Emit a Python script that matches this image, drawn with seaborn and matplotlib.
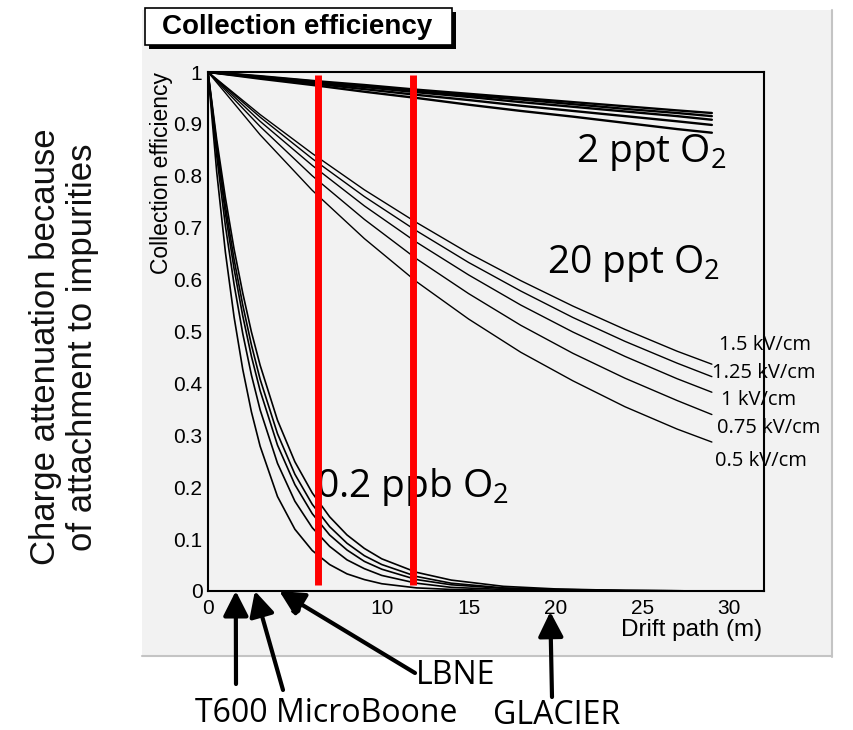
import matplotlib
matplotlib.use("Agg")
import matplotlib.pyplot as plt
from matplotlib.patches import Rectangle
from matplotlib.lines import Line2D
from matplotlib.ticker import MultipleLocator, FuncFormatter
import pandas as pd
import seaborn as sns

# ---------------------------------------------------------------- data
fields = ["1.5 kV/cm", "1.25 kV/cm", "1 kV/cm", "0.75 kV/cm", "0.5 kV/cm"]

# drift path (m) sampled for the slowly falling curves
drift_coarse = [0, 3, 6, 9, 12, 15, 18, 21, 24, 27, 29]
# drift path (m) sampled for the fast falling curves
drift_fine = [0, 0.5, 1, 1.5, 2, 2.5, 3, 4, 5, 6, 7, 8, 9, 10, 12, 14, 17, 20, 24, 29]

# collection efficiency, one row per field (same order as `fields`)
eff_2ppt = [
    [1, 0.992, 0.983, 0.975, 0.966, 0.958, 0.950, 0.942, 0.934, 0.926, 0.921],
    [1, 0.991, 0.982, 0.973, 0.964, 0.955, 0.947, 0.938, 0.929, 0.921, 0.915],
    [1, 0.990, 0.980, 0.971, 0.961, 0.952, 0.942, 0.933, 0.924, 0.915, 0.908],
    [1, 0.989, 0.978, 0.967, 0.956, 0.946, 0.935, 0.925, 0.915, 0.905, 0.898],
    [1, 0.987, 0.975, 0.962, 0.950, 0.937, 0.925, 0.914, 0.902, 0.890, 0.883],
]
eff_20ppt = [
    [1, 0.918, 0.843, 0.773, 0.710, 0.651, 0.598, 0.549, 0.504, 0.462, 0.437],
    [1, 0.913, 0.833, 0.760, 0.694, 0.633, 0.578, 0.527, 0.481, 0.439, 0.413],
    [1, 0.905, 0.820, 0.742, 0.672, 0.609, 0.551, 0.499, 0.452, 0.409, 0.383],
    [1, 0.895, 0.800, 0.716, 0.640, 0.573, 0.512, 0.458, 0.410, 0.367, 0.340],
    [1, 0.879, 0.772, 0.679, 0.596, 0.524, 0.460, 0.405, 0.355, 0.312, 0.287],
]
eff_02ppb = [
    [1, 0.870, 0.758, 0.659, 0.574, 0.499, 0.435, 0.329, 0.249, 0.189, 0.143,
     0.108, 0.082, 0.062, 0.036, 0.021, 0.009, 0.004, 0.001, 0.000],
    [1, 0.861, 0.742, 0.639, 0.551, 0.474, 0.408, 0.303, 0.225, 0.167, 0.124,
     0.092, 0.068, 0.051, 0.028, 0.015, 0.006, 0.003, 0.001, 0.000],
    [1, 0.853, 0.728, 0.621, 0.530, 0.452, 0.386, 0.281, 0.205, 0.149, 0.108,
     0.079, 0.057, 0.042, 0.022, 0.012, 0.005, 0.002, 0.001, 0.000],
    [1, 0.839, 0.704, 0.591, 0.496, 0.416, 0.349, 0.246, 0.173, 0.122, 0.086,
     0.060, 0.043, 0.030, 0.015, 0.007, 0.003, 0.001, 0.000, 0.000],
    [1, 0.808, 0.653, 0.528, 0.427, 0.345, 0.279, 0.182, 0.119, 0.078, 0.051,
     0.033, 0.022, 0.014, 0.006, 0.003, 0.001, 0.000, 0.000, 0.000],
]

# detector maximum drift lengths (m)
detectors = ["T600", "MicroBoone", "LBNE", "GLACIER"]
detector_drift = [1.6, 2.7, 4.1, 19.7]

# drift lengths highlighted with red markers (m)
marker_drift = [6.33, 11.8]

y_ticks = [0, 0.1, 0.2, 0.3, 0.4, 0.5, 0.6, 0.7, 0.8, 0.9, 1]
x_ticks = [0, 5, 10, 15, 20, 25, 30]


def long_frame(drift, rows, purity):
    recs = []
    for field, vals in zip(fields, rows):
        for d, v in zip(drift, vals):
            recs.append((purity, field, d, v))
    return pd.DataFrame(recs, columns=["purity", "field", "drift", "eff"])


curves = pd.concat([
    long_frame(drift_coarse, eff_2ppt, "2 ppt"),
    long_frame(drift_coarse, eff_20ppt, "20 ppt"),
    long_frame(drift_fine, eff_02ppb, "0.2 ppb"),
], ignore_index=True)

# ---------------------------------------------------------------- style
sns.set_style("white")
plt.rcParams["font.family"] = ["Liberation Sans", "DejaVu Sans"]
for key in ["text.color", "axes.labelcolor", "xtick.color", "ytick.color"]:
    plt.rcParams[key] = "black"
HUMANIST = ["Open Sans", "Noto Sans", "DejaVu Sans"]

W, H = 854, 730
fig = plt.figure(figsize=(W / 100, H / 100), dpi=100)
fig.patch.set_facecolor("white")


def fx(px):
    return px / W


def fy(py):
    return 1 - py / H


# grey canvas panel behind the plot
fig.add_artist(Rectangle((fx(142), fy(656)), fx(832) - fx(142), fy(10) - fy(656),
                         transform=fig.transFigure, facecolor="#f2f2f2",
                         edgecolor="none", zorder=-2))
fig.add_artist(Line2D([fx(832), fx(832)], [fy(657), fy(10)], color="#c4c4c4",
                      lw=1.5, transform=fig.transFigure, zorder=-1))
fig.add_artist(Line2D([fx(142), fx(832)], [fy(656), fy(656)], color="#c4c4c4",
                      lw=1.5, transform=fig.transFigure, zorder=-1))

ax = fig.add_axes([fx(208), fy(591), fx(764) - fx(208), fy(72) - fy(591)])
ax.set_facecolor("#f2f2f2")

for purity, lw in [("2 ppt", 1.7), ("20 ppt", 1.0), ("0.2 ppb", 1.2)]:
    sns.lineplot(data=curves[curves["purity"] == purity], x="drift", y="eff",
                 units="field", estimator=None, color="black", lw=lw,
                 ax=ax, legend=False, zorder=3)

ax.vlines(marker_drift, 0.012, 0.994, colors="#ff0000", lw=5, zorder=6)

ax.set_xlim(0, 32)
ax.set_ylim(0, 1)
ax.set_xticks(x_ticks)
ax.set_yticks(y_ticks)
ax.xaxis.set_minor_locator(MultipleLocator(1))
ax.yaxis.set_minor_locator(MultipleLocator(0.02))
fmt = FuncFormatter(lambda v, _: f"{v:g}")
ax.xaxis.set_major_formatter(fmt)
ax.yaxis.set_major_formatter(fmt)
ax.tick_params(which="both", direction="in", color="black", width=1.1,
               top=False, right=False)
ax.tick_params(which="major", length=12, labelsize=15)
ax.tick_params(which="minor", length=6.5)
ax.tick_params(axis="x", which="major", pad=6)
ax.tick_params(axis="y", which="major", pad=4)
for s in ax.spines.values():
    s.set_visible(True)
    s.set_color("black")
    s.set_linewidth(1.5)

ax.set_ylabel("Collection efficiency", fontsize=16.5, loc="top")
ax.yaxis.set_label_coords(-0.063, 1.0)
ax.set_xlabel("Drift path (m)", fontsize=17.5, loc="right")
ax.xaxis.set_label_coords(0.996, -0.053)

# purity annotations
sub2 = r"O$_\mathregular{2}$"
ax.text(21.2, 0.827, "2 ppt " + sub2, fontsize=28, family=HUMANIST,
        va="baseline", zorder=4)
ax.text(19.5, 0.613, "20 ppt " + sub2, fontsize=28, family=HUMANIST,
        va="baseline", zorder=4)
ax.text(6.2, 0.181, "0.2 ppb " + sub2, fontsize=28, family=HUMANIST,
        va="baseline", zorder=4)

# field labels at the right end of the 20 ppt curves
for label, x, y in zip(fields, [29.4, 29.0, 29.55, 29.3, 29.2],
                       [0.474, 0.420, 0.368, 0.314, 0.250]):
    ax.text(x, y, label, fontsize=14.5, family=HUMANIST, va="center",
            clip_on=False, zorder=4)

# title box
fig.add_artist(Rectangle((fx(149), fy(49)), fx(456) - fx(149), fy(12) - fy(49),
                         transform=fig.transFigure, facecolor="black",
                         edgecolor="none", zorder=2))
fig.add_artist(Rectangle((fx(145), fy(45)), fx(452) - fx(145), fy(8) - fy(45),
                         transform=fig.transFigure, facecolor="white",
                         edgecolor="black", lw=1.2, zorder=3))
fig.text(fx(297), fy(27), "Collection efficiency", ha="center", va="center",
         fontsize=20, fontweight="bold", family="Liberation Sans", zorder=4)

# side caption
fig.text(fx(64), fy(347), "Charge attenuation because\nof attachment to impurities",
         rotation=90, ha="center", va="center", multialignment="center",
         fontsize=25, family="Liberation Sans", color="#111111", linespacing=1.15)

# detector arrows (tails in figure pixels from the top-left)
tails = [(236, 684), (283, 690), (415, 673), (552, 697)]
tip_y = [0.0, 0.0, 0.0, -0.04]
arrow_style = dict(arrowstyle="-|>,head_length=0.75,head_width=0.38",
                   color="black", lw=3, mutation_scale=20, shrinkA=0, shrinkB=0)
for d, ty, (tx, tyy) in zip(detector_drift, tip_y, tails):
    ax.annotate("", xy=(d, ty), xycoords="data", xytext=(tx, H - tyy),
                textcoords="figure pixels", arrowprops=arrow_style,
                annotation_clip=False, zorder=7)

fig.text(fx(195), fy(713), "T600 MicroBoone", fontsize=23, family=HUMANIST,
         va="center", ha="left")
fig.text(fx(416), fy(675), "LBNE", fontsize=23, family=HUMANIST,
         va="center", ha="left")
fig.text(fx(493), fy(715), "GLACIER", fontsize=23, family=HUMANIST,
         va="center", ha="left")

fig.savefig("out.png", dpi=100)
